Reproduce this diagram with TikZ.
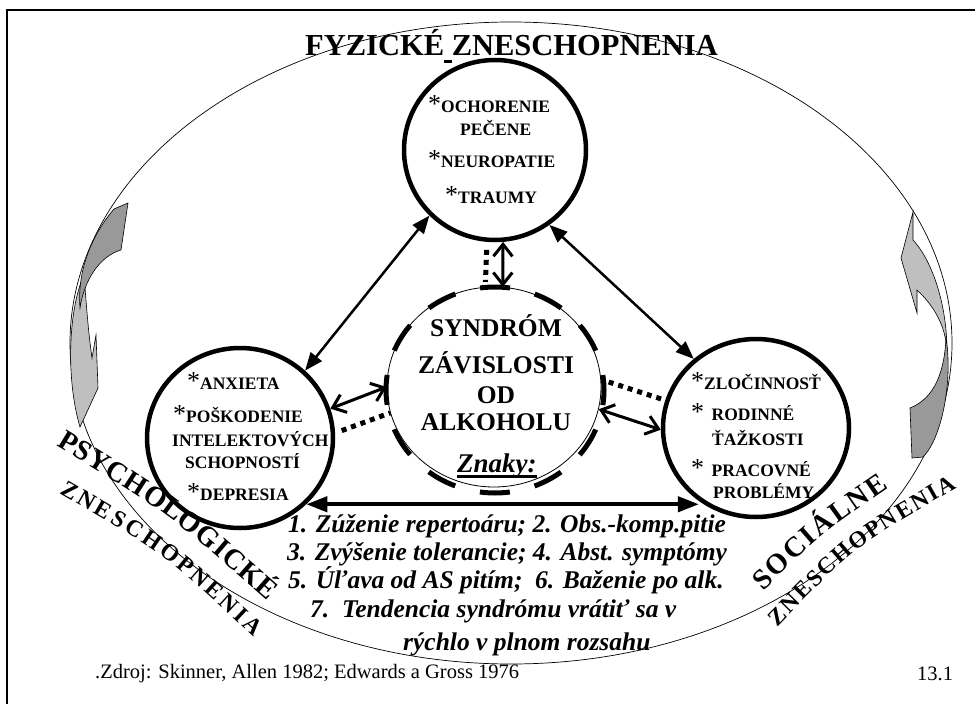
\documentclass[tikz,border=0pt]{standalone}
\usepackage{fontspec}
\setmainfont{Liberation Serif}
\usetikzlibrary{arrows.meta,shapes.geometric,decorations.text}

\newcommand\starmark{{\fontsize{26}{26}\selectfont\mdseries *}}
\newcommand\thickul[1]{\setbox0\hbox{#1}\rlap{\rule[-5.5pt]{\wd0}{2.5pt}}\box0}
\newcommand\bigart{\fontsize{28.5}{28.5}\selectfont\bfseries}
\newcommand\smallart{\fontsize{23.5}{23.5}\selectfont\bfseries}

\begin{document}
\begin{tikzpicture}[x=1pt, y=-1pt,
    every node/.style={inner sep=0pt},
    ring/.style={draw, ellipse, line width=4.5pt},
    item/.style={anchor=base west, font=\fontsize{17.5}{17.5}\selectfont\bfseries},
    centre/.style={anchor=base, font=\fontsize{25.5}{25.5}\selectfont\bfseries},
    markline/.style={anchor=base west, font=\fontsize{25.5}{25.5}\selectfont\bfseries\itshape},
    note/.style={anchor=base west, font=\fontsize{20.5}{20.5}\selectfont},
    filledlink/.style={line width=2.5pt, arrows={Triangle[length=18pt,width=14pt]-Triangle[length=18pt,width=14pt]}},
    widelink/.style={line width=4pt, arrows={Triangle[length=21pt,width=15pt]-Triangle[length=21pt,width=15pt]}},
    openlink/.style={line width=3pt, arrows={Straight Barb[length=12pt,width=19pt]-Straight Barb[length=12pt,width=19pt]}},
    dotlink/.style={line width=5pt, dash pattern=on 5pt off 5pt},
    dashring/.style={line width=5pt, dash pattern=on 30pt off 25.5pt, dash phase=15pt},
    darkband/.style={fill=black!40, draw=black, line width=0.6pt},
    lightband/.style={fill=black!25, draw=black, line width=0.6pt}
]
\useasboundingbox (0,0) rectangle (975,704);
\fill[white] (0,0) rectangle (975,704);
\draw[line width=2pt] (7,704) -- (7,10) -- (975,10);

% outer ellipse and the two turning arrows
\draw[line width=0.7pt] (511,343) ellipse [x radius=441pt, y radius=321pt];

\filldraw[lightband] (84,275) .. controls (68,310) and (66,380) .. (80,427)
  -- (98,388) -- (96,335) -- (92,358) .. controls (88,330) and (86,300) .. cycle;
\filldraw[darkband] (114,209) -- (128,203) -- (121,250)
  .. controls (100,256) and (84,280) .. (80,308)
  .. controls (77,270) and (92,235) .. cycle;

\filldraw[lightband] (913,212) -- (901,258) -- (917,313) -- (917,290)
  .. controls (933,305) and (946,325) .. (947,352)
  .. controls (947,300) and (930,258) .. (913,240) -- cycle;
\filldraw[darkband] (910,408) .. controls (930,400) and (944,380) .. (946,338)
  .. controls (953,380) and (942,438) .. (923,457) -- (912,458) -- cycle;

% circles
\node[ring, minimum width=182pt, minimum height=180pt] (fyz) at (495,150) {};
\node[ring, minimum width=186pt, minimum height=180pt] (psy) at (240,438) {};
\node[ring, minimum width=186pt, minimum height=178pt] (soc) at (756,428) {};
\node[draw, ellipse, line width=0.8pt, minimum width=214pt, minimum height=200pt] (syn) at (494,387) {};
\draw[dashring] (495,390) ellipse [x radius=109pt, y radius=103pt];

% links
\draw[filledlink] (fyz.225) -- (psy.46);
\draw[filledlink] (fyz.306) -- (soc.132);
\draw[openlink] (fyz.275) -- (syn.85);
\draw[dotlink, shorten <=8pt, shorten >=5pt] (fyz.265) -- (syn.95);
\draw[openlink] (psy.18) -- (syn.180);
\draw[dotlink, shorten <=7pt] (psy.3) -- (syn.194);
\draw[openlink] (syn.348) -- (soc.181);
\draw[dotlink, shorten <=8pt] (syn.4) -- (soc.163);
\draw[widelink] (psy.315) -- (soc.232 |- psy.315);

% texts
\node[anchor=base west, font=\fontsize{30.5}{30.5}\selectfont\bfseries] (title) at (305,55)
  {FYZICKÉ\rlap{\rule[-8pt]{8pt}{3pt}}\ ZNESCHOPNENIA};

\foreach \x/\y/\t [count=\i] in {428/112/{\starmark OCHORENIE}, 460/135/{PEČENE},
    428/167/{\starmark NEUROPATIE}, 445/203/{\starmark TRAUMY}}
  \node[item] (fyz-\i) at (\x,\y) {\t};

\foreach \x/\y/\t [count=\i] in {187/389/{\starmark ANXIETA}, 173/422/{\starmark POŠKODENIE},
    172/446/{INTELEKTOVÝCH}, 185/468/{SCHOPNOSTÍ}, 187/500/{\starmark DEPRESIA}}
  \node[item] (psy-\i) at (\x,\y) {\t};

\foreach \x/\y/\t [count=\i] in {691/389/{\starmark ZLOČINNOSŤ}, 691/420/{\starmark\hspace{7.5pt}RODINNÉ},
    712/445/{ŤAŽKOSTI}, 691/476/{\starmark\hspace{7.5pt}PRACOVNÉ}, 713/498/{PROBLÉMY}}
  \node[item] (soc-\i) at (\x,\y) {\t};

\foreach \y/\t [count=\i] in {336/SYNDRÓM, 373/ZÁVISLOSTI, 403/OD, 430/ALKOHOLU}
  \node[centre] (syn-\i) at (496,\y) {\t};
\node[anchor=base west, font=\fontsize{27}{27}\selectfont\bfseries\itshape] (znaky) at (457,472) {\thickul{Znaky:}};

\foreach \x/\y/\t [count=\i] in {288/532/{1. Zúženie repertoáru; 2. Obs.-komp.pitie},
    287/560/{3. Zvýšenie tolerancie; 4. Abst. symptómy},
    288/588/{5. Úľava od AS pitím;\ \ 6. Baženie po alk.},
    310/617/{7.\ \ Tendencia syndrómu vrátiť sa v},
    403/650/{rýchlo v plnom rozsahu}}
  \node[markline] (sign-\i) at (\x,\y) {\t};

\path[decorate, decoration={text along path, text={|\bigart|PSYCHOLOGICKÉ}, text align={fit to path}}]
  (56,445) .. controls (169,514) .. (268,601);
\path[decorate, decoration={text along path, text={|\smallart|ZNESCHOPNENIA}, text align={fit to path}}]
  (59,493) .. controls (165,554) .. (254,637);
\path[decorate, decoration={text along path, text={|\bigart|SOCIÁLNE}, text align={fit to path}}]
  (763,591) .. controls (822,534) .. (889,488);
\path[decorate, decoration={text along path, text={|\smallart|ZNESCHOPNENIA}, text align={fit to path}}]
  (777,627) .. controls (857,545) .. (957,488);

\node[note] (source) at (95,678) {.Zdroj: Skinner, Allen 1982; Edwards a Gross 1976};
\node[note] (page) at (917,680) {13.1};
\end{tikzpicture}
\end{document}
